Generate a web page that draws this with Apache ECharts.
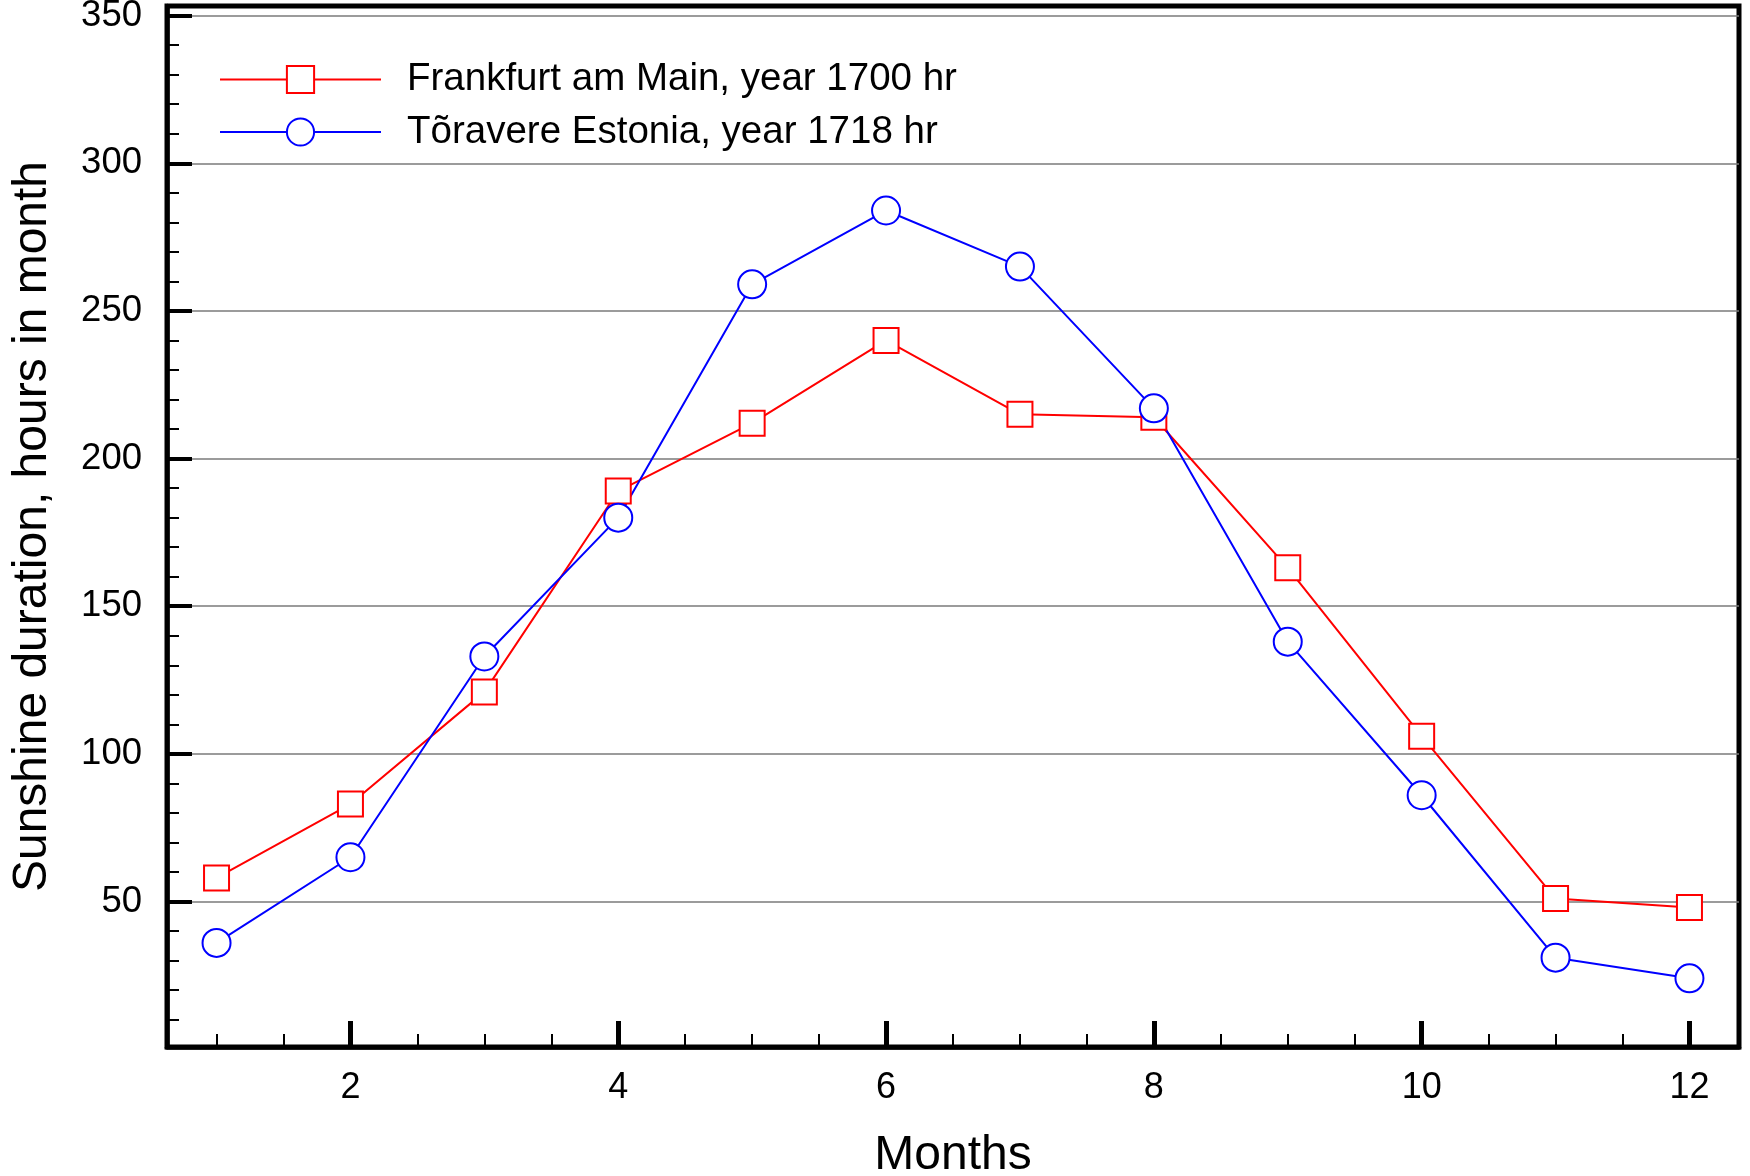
<!DOCTYPE html>
<html>
<head>
<meta charset="utf-8">
<script src="https://cdn.jsdelivr.net/npm/echarts@6/dist/echarts.min.js"></script>
<style>
html,body{margin:0;padding:0;background:#fff;overflow:hidden;}
#chart{width:1750px;height:1176px;}
</style>
</head>
<body>
<div id="chart"></div>
<script>
const months = [1,2,3,4,5,6,7,8,9,10,11,12];
const frankfurt = [58,83,121,189,212,240,215,214,163,106,51,48];
const toravere = [36,65,133,180,259,284,265,217,138,86,31,24];
const seriesNames = ['Frankfurt am Main, year 1700 hr', 'Tõravere Estonia, year 1718 hr'];
const xMajorTicks = [2,4,6,8,10,12];
const xMinorTicks = [1,1.5,2.5,3,3.5,4.5,5,5.5,6.5,7,7.5,8.5,9,9.5,10.5,11,11.5];
const yMajorTicks = [50,100,150,200,250,300,350];
const yMinorTicks = [10,20,30,40,60,70,80,90,110,120,130,140,160,170,180,190,210,220,230,240,260,270,280,290,310,320,330,340];
const xTitle = 'Months';
const yTitle = 'Sunshine duration, hours in month';

const FONT = 'Liberation Sans, Arial, Helvetica, sans-serif';
const xMin = 0.63, xMax = 12.37, yMin = 0.75, yMax = 353.25;

const chart = echarts.init(document.getElementById('chart'), null, {renderer: 'canvas'});
chart.setOption({
  animation: false,
  backgroundColor: '#fff',
  textStyle: {fontFamily: FONT, color: '#000'},
  grid: {left: 167, right: 11, top: 6, bottom: 129, show: true, borderColor: '#000', borderWidth: 5, backgroundColor: 'transparent', containLabel: false, outerBoundsMode: 'none'},
  legend: {
    orient: 'vertical', left: 219, top: 60, padding: 0,
    itemWidth: 161, itemHeight: 34, itemGap: 13.5,
    textStyle: {fontFamily: FONT, fontSize: 38.5, color: '#000', padding: [0,0,0,21]},
    data: seriesNames
  },
  xAxis: [
    {
      type: 'value', min: xMin, max: xMax, position: 'bottom',
      name: xTitle, nameLocation: 'middle', nameGap: 85,
      nameTextStyle: {fontFamily: FONT, fontSize: 48, color: '#000'},
      axisLine: {show: true, lineStyle: {color: '#000', width: 4.5}},
      axisTick: {show: true, inside: true, length: 26, lineStyle: {color: '#000', width: 5}, customValues: xMajorTicks},
      axisLabel: {show: true, margin: 23, fontFamily: FONT, fontSize: 36, color: '#000', customValues: xMajorTicks},
      splitLine: {show: false}
    },
    {
      type: 'value', min: xMin, max: xMax, position: 'bottom',
      axisLine: {show: false},
      axisTick: {show: true, inside: true, length: 13, lineStyle: {color: '#000', width: 2}, customValues: xMinorTicks},
      axisLabel: {show: false},
      splitLine: {show: false}
    }
  ],
  yAxis: [
    {
      type: 'value', min: yMin, max: yMax, position: 'left',
      name: yTitle, nameLocation: 'middle', nameGap: 110,
      nameTextStyle: {fontFamily: FONT, fontSize: 48, color: '#000'},
      axisLine: {show: true, lineStyle: {color: '#000', width: 4.5}},
      axisTick: {show: true, inside: true, length: 25, lineStyle: {color: '#000', width: 4}, customValues: yMajorTicks},
      axisLabel: {show: true, margin: 25, fontFamily: FONT, fontSize: 36.5, color: '#000', customValues: yMajorTicks},
      splitLine: {show: true, lineStyle: {color: '#7a7a7a', width: 1.5}}
    },
    {
      type: 'value', min: yMin, max: yMax, position: 'left',
      axisLine: {show: false},
      axisTick: {show: true, inside: true, length: 12, lineStyle: {color: '#000', width: 2}, customValues: yMinorTicks},
      axisLabel: {show: false},
      splitLine: {show: false}
    }
  ],
  series: [
    {
      name: seriesNames[0], type: 'line', xAxisIndex: 0, yAxisIndex: 0,
      data: months.map((m, i) => [m, frankfurt[i]]),
      symbol: 'rect', symbolSize: 25,
      lineStyle: {color: '#ff0000', width: 2},
      itemStyle: {color: '#ffffff', borderColor: '#ff0000', borderWidth: 2},
      emphasis: {disabled: true}
    },
    {
      name: seriesNames[1], type: 'line', xAxisIndex: 0, yAxisIndex: 0,
      data: months.map((m, i) => [m, toravere[i]]),
      symbol: 'circle', symbolSize: 28,
      lineStyle: {color: '#0000ff', width: 2},
      itemStyle: {color: '#ffffff', borderColor: '#0000ff', borderWidth: 2},
      emphasis: {disabled: true}
    }
  ]
});
</script>
</body>
</html>
